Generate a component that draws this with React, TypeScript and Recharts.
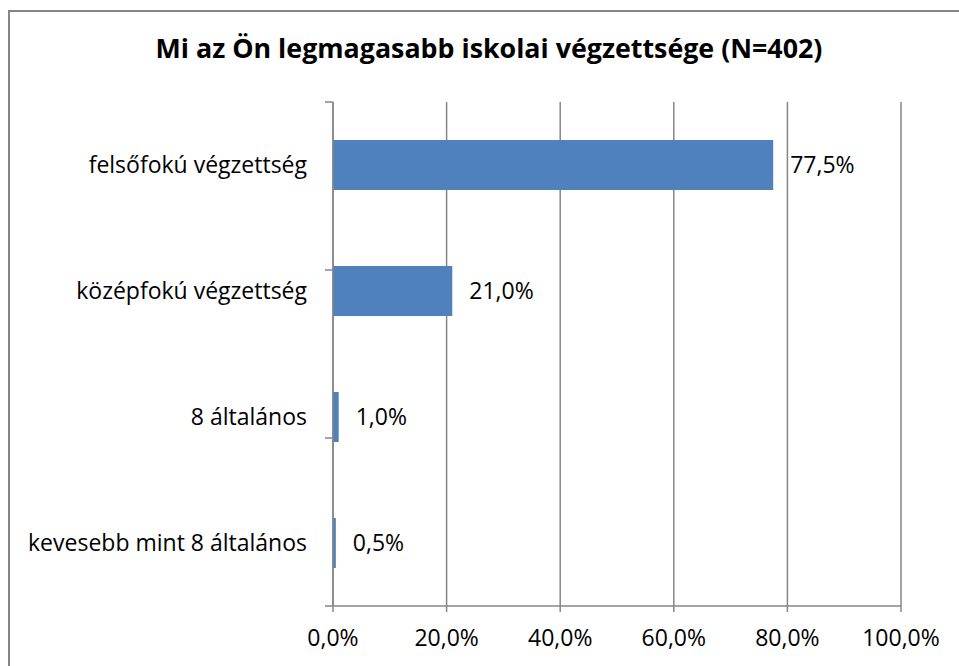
import React from "react";
import { BarChart, Bar, XAxis, YAxis, CartesianGrid, LabelList } from "recharts";

const categories = [
  "felsőfokú végzettség",
  "középfokú végzettség",
  "8 általános",
  "kevesebb mint 8 általános",
];
const values = [77.5, 21.0, 1.0, 0.5];
const xTicks = [0, 20, 40, 60, 80, 100];
const edgeTicks = [0, 1, 2, 3, 4];

const data = categories.map((c, i) => ({ name: c, value: values[i] }));

const fmt = (v: number) => v.toFixed(1).replace(".", ",") + "%";
const FONT = "'Open Sans', sans-serif";
const GRAY = "#868686";

const EmptyTick = () => <g />;

export default function App() {
  return (
    <div style={{ position: "absolute", left: 0, top: 0, width: 959, height: 666, overflow: "hidden", background: "#fff" }}>
      <div
        style={{
          position: "absolute",
          left: 8,
          top: 10,
          width: 1000,
          height: 700,
          borderTop: `2px solid ${GRAY}`,
          borderLeft: `2px solid ${GRAY}`,
          boxSizing: "border-box",
        }}
      />
      <div
        style={{
          position: "absolute",
          left: 0,
          top: 29,
          width: 978,
          textAlign: "center",
          fontFamily: FONT,
          fontWeight: 700,
          fontSize: 26.8,
          color: "#000",
          whiteSpace: "nowrap",
        }}
      >
        Mi az Ön legmagasabb iskolai végzettsége (N=402)
      </div>
      <div style={{ position: "absolute", left: 0, top: 0 }}>
        <BarChart
          width={959}
          height={666}
          data={data}
          layout="vertical"
          margin={{ top: 102, right: 58, bottom: 30, left: 0 }}
        >
          <CartesianGrid horizontal={false} stroke={GRAY} strokeWidth={1.5} />
          <XAxis
            type="number"
            domain={[0, 100]}
            ticks={xTicks}
            tickFormatter={fmt}
            height={30}
            stroke={GRAY}
            strokeWidth={1.5}
            tickSize={6}
            tickMargin={18}
            tick={{ fill: "#000", fontSize: 23, fontFamily: FONT }}
            interval={0}
          />
          <YAxis
            yAxisId="a_edge"
            type="number"
            domain={[0, 4]}
            ticks={edgeTicks}
            tick={<EmptyTick />}
            axisLine={{ stroke: GRAY, strokeWidth: 1.5 }}
            tickLine={{ stroke: GRAY, strokeWidth: 1.5 }}
            stroke={GRAY}
            tickSize={8}
            width={10}
            interval={0}
            allowDataOverflow
          />
          <YAxis
            yAxisId="b_cat"
            type="category"
            dataKey="name"
            width={323}
            axisLine={false}
            tickLine={false}
            tickSize={8}
            tickMargin={8}
            tick={{ fill: "#000", fontSize: 23, fontFamily: FONT }}
            interval={0}
          />
          <Bar yAxisId="b_cat" dataKey="value" fill="#4F81BD" barSize={50} isAnimationActive={false}>
            <LabelList
              dataKey="value"
              position="right"
              offset={17}
              formatter={(v: any) => fmt(Number(v))}
              style={{ fill: "#000", fontSize: 23, fontFamily: FONT }}
            />
          </Bar>
        </BarChart>
      </div>
    </div>
  );
}
